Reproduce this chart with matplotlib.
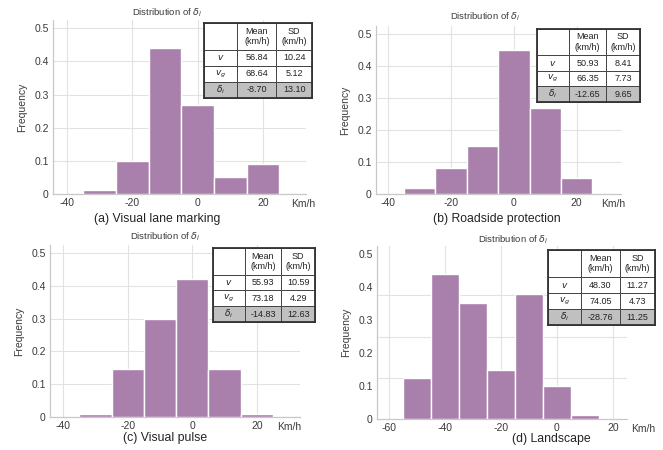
# histograms of delta_i for four treatments, 2x2 layout with summary tables
import numpy as np
import matplotlib.pyplot as plt
from matplotlib.ticker import MultipleLocator

plt.rcParams['font.family'] = ['Liberation Sans', 'DejaVu Sans']
plt.rcParams['mathtext.fontset'] = 'dejavusans'
plt.rcParams['axes.unicode_minus'] = False

# bin centres (km/h) and frequencies
centres_a = [-30, -20, -10, 0, 10, 20]
freq_a = [0.011, 0.10, 0.44, 0.27, 0.05, 0.09]
centres_b = [-30, -20, -10, 0, 10, 20]
freq_b = [0.02, 0.08, 0.15, 0.45, 0.27, 0.05]
centres_c = [-30, -20, -10, 0, 10, 20]
freq_c = [0.008, 0.148, 0.30, 0.42, 0.148, 0.008]
centres_d = [-50, -40, -30, -20, -10, 0, 10]
freq_d = [0.125, 0.44, 0.352, 0.15, 0.378, 0.10, 0.012]

xticks_abc = [-40, -20, 0, 20]
xticks_d = [-60, -40, -20, 0, 20]
yticks = [0, 0.1, 0.2, 0.3, 0.4, 0.5]
ytick_labels = ['0', '0.1', '0.2', '0.3', '0.4', '0.5']

subtitles = ['(a) Visual lane marking', '(b) Roadside protection',
             '(c) Visual pulse', '(d) Landscape']

# table values: mean, sd for v, v_g, delta_i
row_names = [r'$v$', r'$v_g$', r'$\delta_i$']
mean_a = ['56.84', '68.64', '-8.70']
sd_a = ['10.24', '5.12', '13.10']
mean_b = ['50.93', '66.35', '-12.65']
sd_b = ['8.41', '7.73', '9.65']
mean_c = ['55.93', '73.18', '-14.83']
sd_c = ['10.59', '4.29', '12.63']
mean_d = ['48.30', '74.05', '-28.76']
sd_d = ['11.27', '4.73', '11.25']

W, H = 663, 450
fig = plt.figure(figsize=(W / 100, H / 100), dpi=100)

bar_color = '#a97fab'
grid_color = '#e2e2e2'
text_color = '#3a3a3a'


def px_rect(x0, x1, y0, y1):
    # pixel box (top-left origin) -> figure fraction rect
    return [x0 / W, 1 - y1 / H, (x1 - x0) / W, (y1 - y0) / H]


panels = [
    # axes box px, xlim, title xy, subtitle xy, table box, Km/h x
    dict(box=(53, 306, 20, 194), xlim=(-44.3, 33.2), xt=xticks_abc,
         c=centres_a, f=freq_a, title=(167, 13), sub=(157, 219),
         tab=(204, 312, 23, 98), km=32.2, mean=mean_a, sd=sd_a),
    dict(box=(376, 621, 26, 194), xlim=(-43.9, 34.1), xt=xticks_abc,
         c=centres_b, f=freq_b, title=(485, 17), sub=(497, 219),
         tab=(537, 640, 29, 102), km=31.7, mean=mean_b, sd=sd_b),
    dict(box=(50, 300, 245, 417), xlim=(-44.1, 33.4), xt=xticks_abc,
         c=centres_c, f=freq_c, title=(165, 237), sub=(165, 438),
         tab=(213, 315, 248, 322), km=30.0, mean=mean_c, sd=sd_c),
    dict(box=(377, 627, 246, 419), xlim=(-64.4, 25.1), xt=xticks_d,
         c=centres_d, f=freq_d, title=(513, 240), sub=(551, 439),
         tab=(548, 655, 250, 325), km=30.9, mean=mean_d, sd=sd_d),
]

for i, p in enumerate(panels):
    x0, x1, y0, y1 = p['box']
    ax = fig.add_axes(px_rect(x0, x1, y0, y1))
    ax.bar(p['c'], p['f'], width=10, color=bar_color,
           edgecolor='white', linewidth=1.0, zorder=3)
    ax.set_xlim(*p['xlim'])
    ax.set_ylim(0, 0.525)
    ax.set_xticks(p['xt'])
    ax.set_yticks(yticks)
    ax.set_yticklabels(ytick_labels)
    if i == 3:
        # the landscape panel has its horizontal grid on 1/8 steps
        ax.yaxis.set_minor_locator(MultipleLocator(0.125))
        ax.grid(True, axis='y', which='minor', color=grid_color, lw=0.8)
        ax.grid(True, axis='x', which='major', color=grid_color, lw=0.8)
    else:
        ax.grid(True, color=grid_color, lw=0.8)
    ax.set_axisbelow(True)
    ax.tick_params(which='both', length=0, labelsize=7.5, colors=text_color, pad=3)
    for s in ['top', 'right']:
        ax.spines[s].set_visible(False)
    for s in ['left', 'bottom']:
        ax.spines[s].set_color('#c8c8c8')
        ax.spines[s].set_linewidth(0.9)
    ax.set_ylabel('Frequency', fontsize=7.5, color=text_color, labelpad=5)
    ax.text(p['km'], -0.015, 'Km/h', ha='center', va='top',
            fontsize=7.5, color=text_color, clip_on=False)

    tx, ty = p['title']
    fig.text(tx / W, 1 - ty / H, r'Distribution of $\delta_i$', ha='center',
             va='center', fontsize=6.8, color=text_color)
    sx, sy = p['sub']
    fig.text(sx / W, 1 - sy / H, subtitles[i], ha='center', va='center',
             fontsize=8.8, color='#222222')

    # summary table
    t0, t1, t2, t3 = p['tab']
    tax = fig.add_axes(px_rect(t0, t1, t2, t3))
    tax.set_xticks([])
    tax.set_yticks([])
    for s in tax.spines.values():
        s.set_linewidth(1.3)
        s.set_color('#333333')
        s.set_zorder(5)
    cells = [['', 'Mean\n(km/h)', 'SD\n(km/h)']]
    for r in range(3):
        cells.append([row_names[r], p['mean'][r], p['sd'][r]])
    tab = tax.table(cellText=cells, bbox=[0, 0, 1, 1],
                    colWidths=[0.31, 0.36, 0.33], cellLoc='center')
    tab.auto_set_font_size(False)
    tab.set_fontsize(6.5)
    for (r, c), cell in tab.get_celld().items():
        cell.set_height(27 if r == 0 else 16)
        cell.set_edgecolor('#444444')
        cell.set_linewidth(0.7)
        cell.get_text().set_color('#222222')
        if r == 3:
            cell.set_facecolor('#c0c0c0')

fig.savefig('out.png', dpi=100)
